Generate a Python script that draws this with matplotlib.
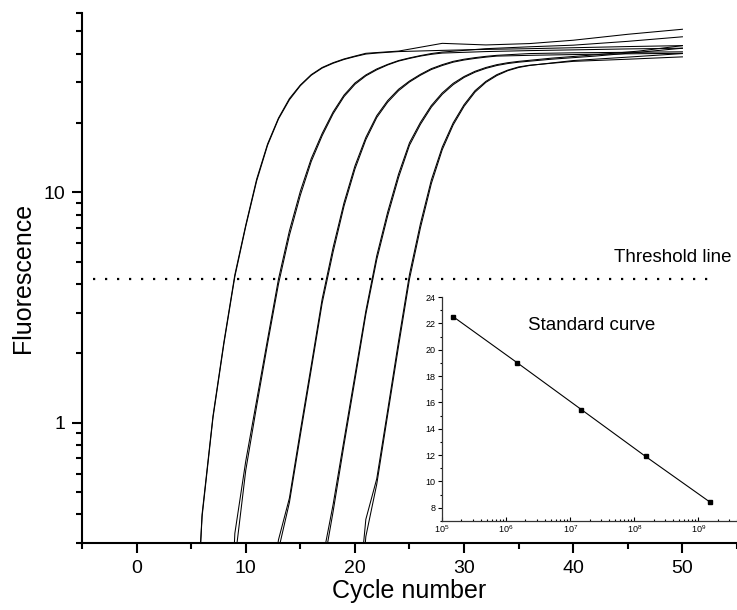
import matplotlib
matplotlib.use('Agg')
import matplotlib.pyplot as plt
from matplotlib.ticker import MultipleLocator, FixedLocator, LogLocator, NullFormatter, FuncFormatter

plt.rcParams['font.family'] = ['Liberation Sans', 'DejaVu Sans']
plt.rcParams['mathtext.fontset'] = 'custom'
plt.rcParams['mathtext.rm'] = 'Liberation Sans'

# amplification curves, fluorescence (5 dilutions, duplicates)
cyc_g1 = list(range(5, 25)) + [28, 32, 36, 40, 45, 50]
f1a = [0.05, 0.40, 1.07, 2.24, 4.38, 7.2, 11.4, 16.2, 21.0, 25.5, 29.2, 32.4, 34.8, 36.5, 37.9,
       39.0, 40.1, 40.4, 40.7, 41.0, 44.3, 43.6, 44.2, 45.7, 48.5, 51.0]
f1b = [0.05, 0.39, 1.05, 2.20, 4.30, 7.1, 11.2, 16.0, 20.8, 25.2, 29.0, 32.2, 34.6, 36.3, 37.7,
       38.8, 39.8, 40.2, 40.5, 40.8, 41.3, 41.7, 42.0, 42.4, 42.9, 43.3]

cyc_g2 = list(range(8, 29)) + [32, 36, 40, 45, 50]
f2a = [0.03, 0.33, 0.68, 1.25, 2.3, 4.2, 6.8, 10.1, 14.0, 18.0, 22.3, 26.4, 29.8, 32.3, 34.3,
       35.9, 37.3, 38.3, 39.2, 40.0, 40.6, 42.0, 42.8, 43.5, 45.2, 47.3]
f2b = [0.02, 0.25, 0.62, 1.18, 2.2, 4.0, 6.5, 9.7, 13.6, 17.6, 21.9, 26.0, 29.4, 32.0, 34.0,
       35.7, 37.1, 38.1, 39.0, 39.7, 40.2, 40.8, 41.2, 41.5, 41.9, 42.2]

cyc_g3 = list(range(12, 34)) + [36, 40, 45, 50]
f3a = [0.15, 0.31, 0.47, 0.92, 1.77, 3.44, 5.75, 9.0, 13.0, 17.3, 21.5, 25.0, 28.0, 30.4, 32.5,
       34.4, 35.8, 37.0, 37.8, 38.4, 38.9, 39.3, 40.0, 40.3, 40.5, 40.7]
f3b = [0.13, 0.28, 0.45, 0.88, 1.70, 3.30, 5.5, 8.7, 12.6, 16.9, 21.1, 24.6, 27.6, 30.1, 32.2,
       34.1, 35.5, 36.7, 37.5, 38.1, 38.6, 39.0, 39.3, 39.6, 39.9, 40.1]

cyc_g4 = list(range(17, 36)) + [38, 42, 46, 50]
f4a = [0.25, 0.44, 0.84, 1.6, 3.05, 5.3, 8.2, 12.0, 16.4, 20.1, 23.8, 27.0, 29.7, 31.8, 33.5,
       34.8, 35.8, 36.5, 37.0, 38.2, 39.5, 41.0, 43.3]
f4b = [0.22, 0.41, 0.80, 1.53, 2.95, 5.1, 7.9, 11.6, 16.0, 19.7, 23.4, 26.6, 29.3, 31.5, 33.2,
       34.5, 35.5, 36.2, 36.7, 37.8, 39.0, 40.5, 42.2]

cyc_g5 = list(range(20, 37)) + [38, 40, 45, 50]
f5a = [0.12, 0.38, 0.57, 1.13, 2.26, 4.4, 7.3, 11.3, 15.7, 20.0, 24.0, 27.6, 30.3, 32.4, 33.9,
       35.0, 35.6, 36.3, 37.0, 37.8, 38.7]
f5b = [0.08, 0.32, 0.54, 1.08, 2.15, 4.2, 7.0, 10.9, 15.3, 19.6, 23.6, 27.2, 30.0, 32.1, 33.7,
       34.8, 35.5, 36.4, 37.3, 38.6, 40.0]

threshold = 4.2
threshold_x = [-4, 53]

# standard curve: copies vs Ct
std_copies = [1.5e5, 1.5e6, 1.5e7, 1.5e8, 1.5e9]
std_ct = [22.5, 19.0, 15.45, 11.9, 8.45]

fig = plt.figure(figsize=(7.37, 6.10), dpi=100)
ax = fig.add_axes([82 / 737, 67 / 610, 655 / 737, 530 / 610])

curves = [(cyc_g1, f1a), (cyc_g1, f1b), (cyc_g2, f2a), (cyc_g2, f2b), (cyc_g3, f3a),
          (cyc_g3, f3b), (cyc_g4, f4a), (cyc_g4, f4b), (cyc_g5, f5a), (cyc_g5, f5b)]
for cx, cy in curves:
    ax.plot(cx, cy, color='black', linewidth=0.75)

ax.plot(threshold_x, [threshold, threshold], color='black', linewidth=1.6,
        linestyle=(0, (1, 4.4)))
# label placed in figure pixels (origin bottom-left)
ax.text(731, 610 - 257, 'Threshold line', transform=None, ha='right', va='center',
        fontsize=13.5)

ax.set_yscale('log')
ax.set_xlim(-5, 55)
ax.set_ylim(0.3, 60)
ax.xaxis.set_major_locator(MultipleLocator(10))
ax.xaxis.set_minor_locator(MultipleLocator(5))
ax.yaxis.set_major_locator(FixedLocator([1, 10]))
ax.yaxis.set_major_formatter(FuncFormatter(lambda v, p: f'{v:g}'))
ax.yaxis.set_minor_locator(LogLocator(base=10, subs=range(2, 10)))
ax.yaxis.set_minor_formatter(NullFormatter())
for s in ['top', 'right']:
    ax.spines[s].set_visible(False)
for s in ['left', 'bottom']:
    ax.spines[s].set_linewidth(1.5)
ax.tick_params(which='major', direction='out', length=7, width=1.5, labelsize=14, pad=5)
ax.tick_params(which='minor', direction='out', length=4, width=1.5)
ax.set_xlabel('Cycle number', fontsize=18, labelpad=2)
ax.set_ylabel('Fluorescence', fontsize=18, labelpad=6)

# inset standard curve
ins = fig.add_axes([442 / 737, 89 / 610, 295 / 737, 224 / 610])
ins.set_facecolor('none')
ins.plot(std_copies, std_ct, color='black', linewidth=0.8, marker='s', markersize=3.5)
ins.set_xscale('log')
ins.set_xlim(1e5, 4e9)
ins.set_ylim(7, 24)
ins.yaxis.set_major_locator(MultipleLocator(2))
ins.yaxis.set_minor_locator(MultipleLocator(1))
ins.xaxis.set_major_locator(LogLocator(base=10))
ins.xaxis.set_minor_locator(LogLocator(base=10, subs=range(2, 10)))
ins.xaxis.set_minor_formatter(NullFormatter())
for s in ['top', 'right']:
    ins.spines[s].set_visible(False)
for s in ['left', 'bottom']:
    ins.spines[s].set_linewidth(0.9)
    ins.spines[s].set_color('#333333')
ins.tick_params(axis='y', which='major', direction='out', length=3, width=0.8, labelsize=6.5, pad=1.5)
ins.tick_params(axis='y', which='minor', direction='out', length=1.8, width=0.8)
ins.tick_params(axis='x', which='major', direction='in', length=3, width=0.8, labelsize=6.5, pad=2)
ins.tick_params(axis='x', which='minor', direction='in', length=1.8, width=0.8)
ins.text(0.29, 0.875, 'Standard curve', transform=ins.transAxes, ha='left', va='center',
         fontsize=13.5)

fig.savefig('out.png', dpi=100)
